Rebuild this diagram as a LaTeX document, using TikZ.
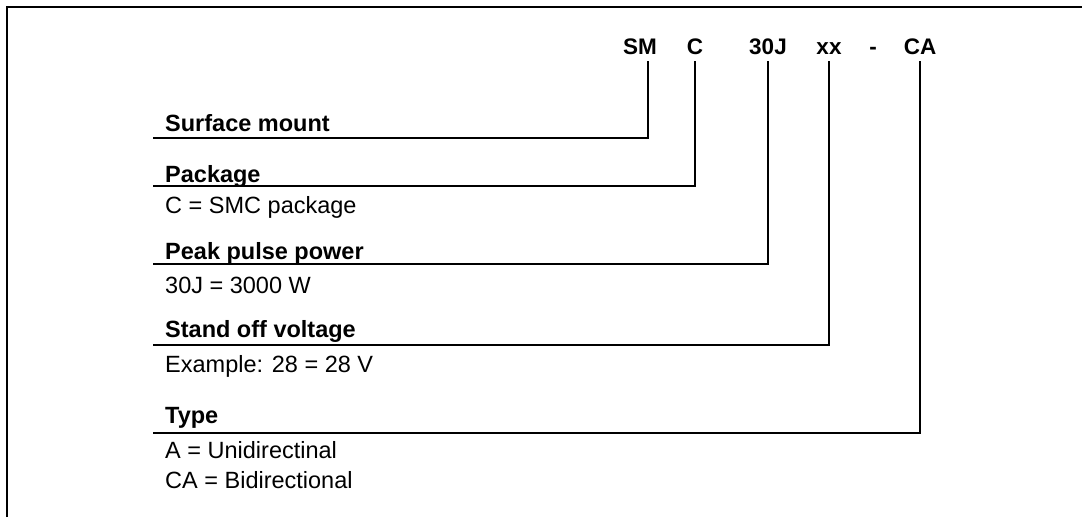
\documentclass[tikz,border=0pt]{standalone}
\usepackage{fontspec}
\setmainfont{Liberation Sans}
\usetikzlibrary{positioning}

\tikzset{
  partcode/.style={font=\fontsize{22.5}{26}\selectfont\bfseries, anchor=base,
                   text depth=0pt, inner xsep=2pt, inner ysep=7pt},
  fieldname/.style={font=\fontsize{23.5}{27}\selectfont\bfseries, anchor=base west, inner sep=0pt},
  fielddesc/.style={font=\fontsize{23.5}{27}\selectfont, anchor=base west, inner sep=0pt},
  legline/.style={line width=2.2pt},
}

\begin{document}
\begin{tikzpicture}[x=1pt, y=-1pt]
    \useasboundingbox (0,0) rectangle (1082,517);

    % frame
    \draw[line width=2.2pt] (7,517) -- (7,7) -- (1082,7);

    % top row: part code
    \node [partcode] (sm)   at (640,54) {SM};
    \node [partcode] (pkg)  at (695,54) {C};
    \node [partcode] (pwr)  at (768,54) {30J};
    \node [partcode] (volt) at (829,54) {xx};
    \node [partcode] (dash) at (873,54) {-};
    \node [partcode] (typ)  at (920,54) {CA};

    % left ends of the leader lines
    \coordinate (lsm)   at (153,138);
    \coordinate (lpkg)  at (153,186);
    \coordinate (lpwr)  at (153,264);
    \coordinate (lvolt) at (153,345);
    \coordinate (ltyp)  at (153,433);

    % field names and values
    \node [fieldname] (smname)   at (165,131) {Surface mount};
    \node [fieldname] (pkgname)  at (165,182) {Package};
    \node [fielddesc] (pkgval)   at (165,213) {C = SMC package};
    \node [fieldname] (pwrname)  at (165,259) {Peak pulse power};
    \node [fielddesc] (pwrval)   at (165,293) {30J = 3000 W};
    \node [fieldname] (voltname) at (165,337) {Stand off voltage};
    \node [fielddesc] (voltval)  at (165,372) {Example: 28 = 28 V};
    \node [fieldname] (typname)  at (165,423) {Type};
    \node [fielddesc] (typvalA)  at (165,458) {A = Unidirectinal};
    \node [fielddesc] (typvalB)  at (165,488) {CA = Bidirectional};

    % leader lines
    \draw[legline] ([xshift=8pt]sm.south) |- (lsm);
    \draw[legline] (pkg.south)  |- (lpkg);
    \draw[legline] (pwr.south)  |- (lpwr);
    \draw[legline] (volt.south) |- (lvolt);
    \draw[legline] (typ.south)  |- (ltyp);
\end{tikzpicture}
\end{document}
